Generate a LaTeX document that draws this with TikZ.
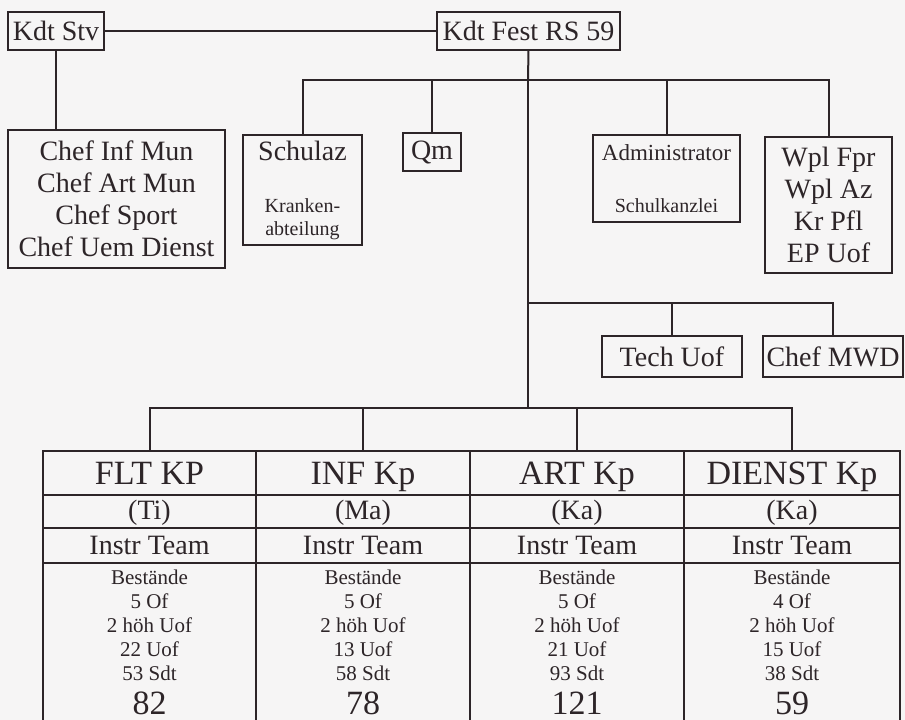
\documentclass[tikz,border=0pt]{standalone}
\usepackage{fontspec}
\setmainfont{Liberation Serif}
\usetikzlibrary{positioning}

\newcommand{\subtxt}{\fontsize{20}{22}\selectfont}

\begin{document}
\begin{tikzpicture}[x=1pt, y=-1pt,
    box/.style={draw=ink, line width=1.7pt, text=ink, align=center, inner sep=0pt, outer sep=0pt},
    cell/.style={draw=ink, line width=1.6pt, text=ink, inner sep=0pt, outer sep=0pt, text depth=0pt},
    bigtxt/.style={font=\fontsize{28}{32}\selectfont},
    smalltxt/.style={font=\fontsize{21}{24}\selectfont},
    headtxt/.style={font=\fontsize{34}{38}\selectfont},
    wire/.style={draw=ink, line width=2pt}]
% Define colors
\definecolor{ink}{RGB}{45,37,40}
\definecolor{paper}{RGB}{246,245,245}

\path[use as bounding box, fill=paper] (0,0) rectangle (905,720);
\clip (0,0) rectangle (905,720);

% Kommando
\node[box, bigtxt, minimum width=96, minimum height=38] (stv) at (56,31) {Kdt Stv};
\node[box, bigtxt, minimum width=183, minimum height=38] (fest) at (528.5,31) {Kdt Fest RS 59};
\node[box, bigtxt, minimum width=217, minimum height=138] (chef) at (116.5,199) {Chef Inf Mun\\Chef Art Mun\\Chef Sport\\Chef Uem Dienst};

% Stab
\node[box, bigtxt, minimum width=119, minimum height=110] (schulaz) at (302.5,190) {Schulaz\\[20pt]\subtxt Kranken-\\[-9pt]\subtxt abteilung};
\node[box, bigtxt, minimum width=58, minimum height=38] (qm) at (432,152) {Qm};
\node[box, font=\fontsize{23}{26}\selectfont, minimum width=147, minimum height=87] (admin) at (666.5,178.5) {Administrator\\[26pt]\subtxt Schulkanzlei};
\node[box, bigtxt, minimum width=127, minimum height=136] (wpl) at (828.5,205) {Wpl Fpr\\Wpl Az\\Kr Pfl\\EP Uof};
\node[box, bigtxt, minimum width=140, minimum height=41] (tech) at (672,356.5) {Tech Uof};
\node[box, bigtxt, minimum width=140, minimum height=41] (mwd) at (833,356.5) {Chef MWD};

% Kompanien
\foreach \i/\cx/\w/\name/\who/\of/\uof/\sdt/\tot in
        {1/149.5/213/FLT KP/Ti/5/22/53/82, 2/363/214/INF Kp/Ma/5/13/58/78,
         3/577/214/ART Kp/Ka/5/21/93/121, 4/792/216/DIENST Kp/Ka/4/15/38/59} {
        \node[cell, headtxt, text height=23pt, minimum width=\w, minimum height=44] (head\i) at (\cx,473) {\name};
        \node[cell, bigtxt, text height=16pt, minimum width=\w, minimum height=33, below=0pt of head\i] (who\i) {(\who)};
        \node[cell, bigtxt, text height=18.5pt, minimum width=\w, minimum height=35, below=0pt of who\i] (team\i) {Instr Team};
        \node[cell, minimum width=\w, minimum height=170, below=0pt of team\i] (body\i) {};
        \node[smalltxt, text=ink, align=center, inner sep=0pt, anchor=north] (list\i) at (\cx,570) {Bestände\\\of{} Of\\2 höh Uof\\\uof{} Uof\\\sdt{} Sdt};
        \node[headtxt, text=ink, inner sep=0pt, anchor=base] (tot\i) at (\cx,714) {\tot};
}

% Verbindungen
\coordinate (topbus) at (528,80);
\coordinate (midbus) at (528,303);
\coordinate (lowbus) at (528,408);

\draw[wire] (stv.east) -- (fest.west);
\draw[wire] (stv.south) -- (stv.south |- chef.north);
\draw[wire] (fest.south) -- (topbus);
\draw[wire] (topbus) -- (midbus);
\draw[wire] (midbus) -- (lowbus);
\draw[wire] (schulaz.north) |- (topbus) -| (wpl.north);
\draw[wire] (qm.north) -- (qm.north |- topbus);
\draw[wire] (admin.north) -- (admin.north |- topbus);
\draw[wire] (midbus) -| (mwd.north);
\draw[wire] (tech.north) -- (tech.north |- midbus);
\draw[wire] (head1.north) |- (lowbus) -| (head4.north);
\draw[wire] (head2.north) -- (head2.north |- lowbus);
\draw[wire] (head3.north) -- (head3.north |- lowbus);
\end{tikzpicture}
\end{document}
